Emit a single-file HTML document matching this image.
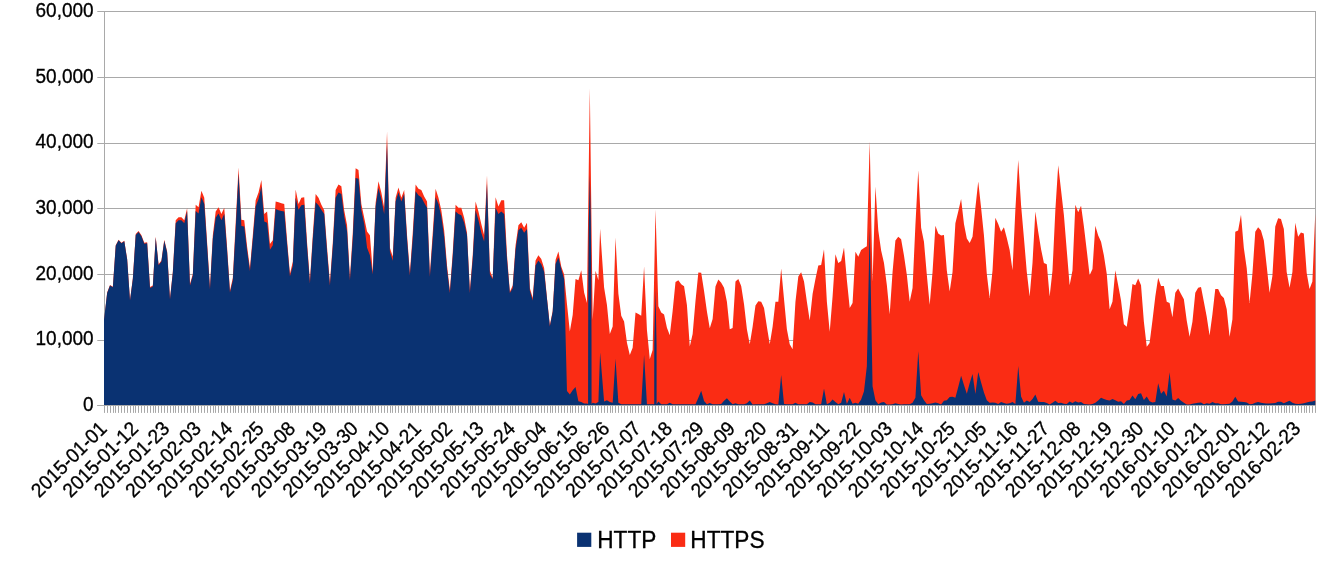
<!DOCTYPE html>
<html><head><meta charset="utf-8"><title>HTTP vs HTTPS</title>
<style>html,body{margin:0;padding:0;background:#fff}body{width:1342px;height:566px;overflow:hidden}</style></head>
<body>
<svg width="1342" height="566" viewBox="0 0 1342 566" style="display:block">
<rect width="1342" height="566" fill="#fff"/>
<path d="M97.3,11.50 H1315.9 M97.3,77.50 H1315.9 M97.3,143.50 H1315.9 M97.3,208.50 H1315.9 M97.3,274.50 H1315.9 M97.3,340.50 H1315.9 M97.3,405.50 H1315.9" stroke="#a9a9a9" stroke-width="1" fill="none"/>
<path d="M104.5,11.00 V406.00 M1315.5,11.00 V406.00" stroke="#a9a9a9" stroke-width="1" fill="none"/>
<path d="M104.30,405.50 L104.30,319.00 L107.16,292.50 L110.01,285.00 L112.87,286.70 L115.72,245.32 L118.58,239.80 L121.44,242.81 L124.29,240.80 L127.15,259.12 L130.00,300.00 L132.86,277.94 L135.72,234.03 L138.57,231.02 L141.43,235.28 L144.28,242.81 L147.14,242.31 L150.00,287.00 L152.85,285.50 L155.71,236.54 L158.56,264.14 L161.42,260.38 L164.28,239.80 L167.13,251.59 L169.99,298.40 L172.84,271.67 L175.70,220.23 L178.56,217.21 L181.41,217.21 L184.27,220.23 L187.12,208.18 L189.98,284.00 L192.84,274.00 L195.69,204.67 L198.55,207.18 L201.40,190.87 L204.26,197.64 L207.12,242.81 L209.97,287.50 L212.83,235.28 L215.68,211.44 L218.54,207.18 L221.40,213.95 L224.25,207.68 L227.11,247.83 L229.96,290.80 L232.82,277.94 L235.68,222.74 L238.53,167.53 L241.39,219.72 L244.24,220.23 L247.10,246.57 L249.96,268.00 L252.81,235.28 L255.67,200.15 L258.52,192.62 L261.38,180.08 L264.24,213.95 L267.09,211.44 L269.95,244.07 L272.80,240.30 L275.66,201.41 L278.52,202.16 L281.37,203.16 L284.23,203.91 L287.08,240.30 L289.94,273.70 L292.80,261.63 L295.65,189.61 L298.51,203.91 L301.36,197.64 L304.22,197.14 L307.08,242.81 L309.93,280.80 L312.79,235.28 L315.64,193.88 L318.50,197.64 L321.36,204.67 L324.21,210.19 L327.07,247.83 L329.92,282.96 L332.78,242.81 L335.64,190.11 L338.49,184.59 L341.35,186.35 L344.20,210.19 L347.06,225.24 L349.92,277.94 L352.77,232.77 L355.63,168.30 L358.48,170.04 L361.34,203.91 L364.20,217.72 L367.05,231.52 L369.91,235.28 L372.76,271.67 L375.62,202.66 L378.48,181.33 L381.33,192.62 L384.19,207.68 L387.04,131.70 L389.90,247.83 L392.76,256.61 L395.61,197.64 L398.47,187.60 L401.32,197.64 L404.18,190.11 L407.04,235.28 L409.89,272.92 L412.75,232.77 L415.60,184.59 L418.46,188.86 L421.32,190.11 L424.17,196.39 L427.03,201.41 L429.88,274.18 L432.74,232.77 L435.60,188.86 L438.45,197.64 L441.31,210.19 L444.16,230.26 L447.02,265.40 L449.88,290.49 L452.73,252.85 L455.59,204.67 L458.44,207.68 L461.30,207.68 L464.16,217.72 L467.01,232.77 L469.87,290.49 L472.72,255.36 L475.58,201.41 L478.44,211.44 L481.29,223.99 L484.15,235.28 L487.00,175.40 L489.86,270.41 L492.72,277.94 L495.57,197.14 L498.43,206.42 L501.28,200.15 L504.14,200.15 L507.00,255.36 L509.85,291.74 L512.71,285.47 L515.56,245.32 L518.42,225.24 L521.28,222.23 L524.13,227.75 L526.99,222.74 L529.84,287.98 L532.70,298.02 L535.56,260.38 L538.41,255.36 L541.27,259.12 L544.12,267.90 L546.98,297.90 L549.84,325.30 L552.69,311.00 L555.55,260.00 L558.40,251.40 L561.26,266.50 L564.12,274.50 L566.97,304.00 L569.83,331.40 L572.68,315.00 L575.54,279.00 L578.40,280.20 L581.25,270.20 L584.11,292.50 L586.96,303.00 L589.82,88.20 L592.68,320.00 L595.53,270.80 L598.39,280.20 L600.10,228.80 L604.10,287.50 L606.96,305.00 L609.81,334.00 L612.67,326.40 L615.52,237.60 L618.38,293.80 L621.24,315.80 L624.09,321.40 L626.95,342.70 L629.80,355.00 L632.66,347.80 L635.52,312.40 L638.37,314.00 L641.23,315.80 L644.08,266.40 L646.94,330.00 L649.80,359.00 L652.65,350.00 L655.51,209.60 L658.36,306.30 L661.22,312.60 L664.08,314.50 L666.93,327.70 L669.79,335.20 L672.64,311.00 L675.50,282.10 L678.36,280.20 L681.21,284.20 L684.07,286.20 L686.92,305.00 L689.78,346.50 L692.64,334.00 L695.49,301.00 L698.35,272.40 L701.20,272.70 L704.06,291.00 L706.92,311.40 L709.77,328.30 L712.63,319.00 L715.48,286.58 L718.34,279.56 L721.20,282.82 L724.05,287.84 L726.91,301.64 L729.76,329.24 L732.62,327.99 L735.48,281.57 L738.33,279.06 L741.19,286.08 L744.04,304.15 L746.90,329.24 L749.76,344.30 L752.61,326.74 L755.47,305.41 L758.32,301.14 L761.18,301.64 L764.04,307.91 L766.89,326.74 L769.75,344.30 L772.60,326.74 L775.46,301.64 L778.32,301.64 L781.17,268.52 L784.03,299.13 L786.88,329.24 L789.74,344.30 L792.60,349.32 L795.45,301.64 L798.31,276.55 L801.16,272.28 L804.02,281.57 L806.88,301.64 L809.73,320.46 L812.59,294.11 L815.44,279.06 L818.30,265.51 L821.16,265.01 L824.01,249.20 L826.87,301.64 L829.72,331.75 L832.58,296.62 L835.44,254.22 L838.29,263.00 L841.15,260.99 L844.00,247.44 L846.86,280.00 L849.72,307.91 L852.57,302.90 L855.43,251.71 L858.28,256.73 L861.14,249.95 L864.00,247.94 L866.85,246.19 L869.71,141.29 L872.56,282.00 L875.42,186.46 L878.28,230.38 L881.13,250.45 L883.99,263.00 L886.84,285.00 L889.70,314.19 L892.56,272.03 L895.41,240.41 L898.27,236.65 L901.12,239.16 L903.98,255.47 L906.84,275.00 L909.69,301.64 L912.55,288.00 L915.40,225.36 L918.26,170.15 L921.12,227.87 L923.97,241.67 L926.83,275.00 L929.68,304.65 L932.54,272.03 L935.40,225.86 L938.25,233.39 L941.11,235.40 L943.96,234.89 L946.82,270.53 L949.68,291.60 L952.53,272.03 L955.39,223.35 L958.24,211.56 L961.10,199.01 L963.96,224.10 L966.81,238.41 L969.67,242.92 L972.52,236.65 L975.38,207.79 L978.24,181.44 L981.09,207.79 L983.95,235.40 L986.80,274.00 L989.66,297.88 L992.52,270.53 L995.37,217.83 L998.23,224.10 L1001.08,231.63 L1003.94,227.37 L1006.80,237.90 L1009.65,250.00 L1012.51,270.30 L1015.36,210.00 L1018.22,160.11 L1021.08,205.28 L1023.93,237.90 L1026.79,272.03 L1029.64,296.62 L1032.50,263.00 L1035.36,211.56 L1038.21,231.63 L1041.07,249.20 L1043.92,263.00 L1046.78,264.25 L1049.64,296.62 L1052.49,270.53 L1055.35,210.30 L1058.20,165.13 L1061.06,190.23 L1063.92,215.32 L1066.77,250.45 L1069.63,285.33 L1072.48,270.53 L1075.34,204.78 L1078.20,212.31 L1081.05,205.78 L1083.91,226.61 L1086.76,250.45 L1089.62,275.29 L1092.48,269.00 L1095.33,225.86 L1098.19,235.40 L1101.04,241.67 L1103.90,255.47 L1106.76,274.04 L1109.61,309.17 L1112.47,301.64 L1115.32,270.27 L1118.18,285.33 L1121.04,300.39 L1123.89,324.23 L1126.75,326.74 L1129.60,307.91 L1132.46,284.08 L1135.32,285.33 L1138.17,278.55 L1141.03,285.33 L1143.88,321.72 L1146.74,346.81 L1149.60,343.05 L1152.45,320.46 L1155.31,296.62 L1158.16,277.80 L1161.02,286.08 L1163.88,286.08 L1166.73,301.64 L1169.59,302.90 L1172.44,317.20 L1175.30,292.86 L1178.16,288.59 L1181.01,294.11 L1183.87,299.13 L1186.72,320.46 L1189.58,336.77 L1192.44,321.72 L1195.29,292.86 L1198.15,287.84 L1201.00,287.09 L1203.86,301.64 L1206.72,316.70 L1209.57,335.52 L1212.43,314.19 L1215.28,289.09 L1218.14,289.09 L1221.00,295.37 L1223.85,297.88 L1226.71,309.17 L1229.56,336.77 L1232.42,319.21 L1235.28,231.63 L1238.13,230.38 L1240.99,214.82 L1243.84,247.94 L1246.70,268.00 L1249.56,302.90 L1252.41,274.00 L1255.27,231.63 L1258.12,227.37 L1260.98,230.38 L1263.84,240.41 L1266.69,266.00 L1269.55,292.86 L1272.40,276.00 L1275.26,226.61 L1278.12,218.33 L1280.97,219.08 L1283.83,229.12 L1286.68,272.00 L1289.54,287.84 L1292.40,272.00 L1295.25,222.85 L1298.11,236.65 L1300.96,232.38 L1303.82,233.39 L1306.68,273.00 L1309.53,289.09 L1312.39,281.57 L1315.24,214.07 L1315.24,405.50 Z" fill="#fa2c14"/>
<path d="M104.00,405.50 L104.00,319.50 L107.16,293.00 L110.01,285.50 L112.87,287.20 L115.72,245.82 L118.58,240.30 L121.44,243.31 L124.29,241.30 L127.15,259.62 L130.00,300.50 L132.86,278.94 L135.72,235.03 L138.57,232.02 L141.43,236.28 L144.28,243.81 L147.14,243.31 L150.00,288.00 L152.85,286.50 L155.71,237.54 L158.56,265.14 L161.42,261.38 L164.28,240.80 L167.13,252.59 L169.99,299.40 L172.84,272.67 L175.70,223.23 L178.56,220.21 L181.41,220.21 L184.27,223.23 L187.12,211.18 L189.98,285.50 L192.84,275.50 L195.69,210.97 L198.55,213.48 L201.40,197.17 L204.26,203.94 L207.12,246.31 L209.97,289.30 L212.83,238.78 L215.68,217.74 L218.54,213.48 L221.40,220.25 L224.25,213.98 L227.11,251.33 L229.96,292.60 L232.82,280.54 L235.68,229.04 L238.53,173.83 L241.39,226.02 L244.24,226.53 L247.10,250.77 L249.96,271.00 L252.81,239.48 L255.67,206.45 L258.52,198.92 L261.38,186.38 L264.24,221.48 L267.09,222.74 L269.95,249.84 L272.80,245.32 L275.66,208.93 L278.52,210.19 L281.37,210.94 L284.23,211.44 L287.08,244.50 L289.94,276.30 L292.80,265.83 L295.65,197.64 L298.51,209.69 L301.36,205.17 L304.22,204.67 L307.08,247.01 L309.93,283.40 L312.79,239.48 L315.64,202.16 L318.50,205.17 L321.36,209.69 L324.21,213.95 L327.07,252.03 L329.92,285.56 L332.78,247.01 L335.64,197.64 L338.49,192.62 L341.35,193.88 L344.20,216.49 L347.06,231.54 L349.92,280.54 L352.77,239.07 L355.63,177.90 L358.48,178.82 L361.34,210.21 L364.20,224.02 L367.05,247.83 L369.91,255.36 L372.76,274.27 L375.62,206.42 L378.48,187.63 L381.33,198.92 L384.19,213.98 L387.04,143.50 L389.90,251.59 L392.76,260.81 L395.61,201.41 L398.47,192.62 L401.32,201.41 L404.18,193.88 L407.04,239.48 L409.89,275.52 L412.75,239.07 L415.60,191.37 L418.46,195.13 L421.32,197.14 L424.17,202.66 L427.03,207.68 L429.88,276.78 L432.74,239.07 L435.60,197.14 L438.45,203.91 L441.31,216.46 L444.16,236.56 L447.02,269.60 L449.88,293.09 L452.73,257.05 L455.59,211.44 L458.44,213.95 L461.30,215.21 L464.16,222.74 L467.01,235.28 L469.87,293.09 L472.72,259.56 L475.58,210.19 L478.44,220.23 L481.29,232.77 L484.15,241.56 L487.00,183.80 L489.86,274.18 L492.72,279.20 L495.57,207.68 L498.43,213.95 L501.28,211.44 L504.14,213.95 L507.00,259.56 L509.85,293.00 L512.71,288.07 L515.56,249.52 L518.42,230.26 L521.28,227.75 L524.13,232.77 L526.99,229.01 L529.84,290.58 L532.70,300.62 L535.56,265.40 L538.41,260.38 L541.27,264.14 L544.12,271.67 L546.98,299.00 L549.84,326.50 L552.69,312.00 L555.55,264.00 L558.40,257.60 L561.26,269.00 L564.12,279.00 L566.97,391.00 L569.83,394.50 L572.68,390.20 L575.54,387.00 L578.40,401.20 L581.25,402.00 L584.11,403.50 L586.96,403.50 L588.08,404.00 L588.13,340.00 L588.33,280.00 L588.82,221.00 L589.82,175.00 L590.82,221.00 L591.31,280.00 L591.51,340.00 L591.56,404.00 L592.68,402.70 L595.53,403.40 L598.39,402.00 L600.10,352.50 L604.10,401.50 L606.96,400.20 L609.81,402.00 L612.67,402.70 L615.52,358.80 L618.38,402.70 L621.24,404.20 L624.09,404.20 L626.95,404.20 L629.80,404.20 L632.66,404.20 L635.52,404.20 L638.37,404.20 L641.23,404.20 L644.08,355.00 L646.94,404.20 L649.80,404.20 L652.65,404.20 L654.22,404.20 L654.28,345.00 L655.42,290.00 L656.56,345.00 L656.62,404.20 L658.36,401.50 L661.22,404.20 L664.08,404.20 L666.93,404.20 L669.79,402.66 L672.64,404.20 L675.50,404.20 L678.36,404.20 L681.21,404.20 L684.07,404.20 L686.92,404.20 L689.78,404.20 L692.64,404.20 L695.49,404.20 L698.35,397.64 L701.20,390.74 L704.06,401.00 L706.92,404.20 L709.77,402.91 L712.63,404.20 L715.48,404.20 L718.34,404.20 L721.20,403.91 L724.05,400.78 L726.91,398.27 L729.76,401.41 L732.62,404.17 L735.48,403.29 L738.33,404.20 L741.19,404.20 L744.04,404.20 L746.90,403.29 L749.76,400.40 L752.61,404.54 L755.47,404.20 L758.32,404.20 L761.18,404.20 L764.04,404.20 L766.89,403.29 L769.75,402.03 L772.60,403.29 L775.46,404.20 L778.32,404.54 L781.17,375.06 L784.03,403.91 L786.88,404.20 L789.74,404.20 L792.60,404.20 L795.45,402.66 L798.31,404.20 L801.16,404.20 L804.02,404.20 L806.88,404.20 L809.73,402.03 L812.59,402.41 L815.44,404.20 L818.30,404.20 L821.16,404.20 L824.01,388.61 L826.87,404.20 L829.72,402.66 L832.58,399.52 L835.44,402.03 L838.29,404.17 L841.15,402.66 L844.00,391.99 L846.86,403.91 L849.72,397.64 L852.57,403.66 L855.43,402.66 L858.28,403.66 L861.14,399.52 L864.00,391.37 L866.85,366.27 L869.71,228.00 L872.56,386.35 L875.42,400.15 L878.28,404.17 L881.13,402.41 L883.99,402.03 L886.84,404.54 L889.70,404.54 L892.56,404.17 L895.41,403.29 L898.27,403.91 L901.12,404.54 L903.98,404.17 L906.84,404.17 L909.69,404.17 L912.55,402.66 L915.40,397.64 L918.26,351.30 L921.12,395.13 L923.97,400.15 L926.83,403.91 L929.68,403.66 L932.54,403.29 L935.40,402.41 L938.25,403.29 L941.11,404.54 L943.96,400.78 L946.82,400.15 L949.68,397.01 L952.53,396.64 L955.39,397.64 L958.24,386.98 L961.10,375.68 L963.96,385.09 L966.81,393.63 L969.67,383.21 L972.52,374.05 L975.38,393.88 L978.24,371.92 L981.09,382.58 L983.95,392.62 L986.80,400.15 L989.66,402.66 L992.52,402.41 L995.37,402.66 L998.23,403.91 L1001.08,402.03 L1003.94,402.91 L1006.80,403.66 L1009.65,403.29 L1012.51,402.03 L1015.36,403.91 L1018.22,366.02 L1021.08,396.39 L1023.93,402.66 L1026.79,400.40 L1029.64,402.03 L1032.50,398.90 L1035.36,394.50 L1038.21,401.66 L1041.07,402.03 L1043.92,402.03 L1046.78,402.91 L1049.64,404.54 L1052.49,402.66 L1055.35,400.78 L1058.20,402.91 L1061.06,402.66 L1063.92,403.66 L1066.77,403.91 L1069.63,401.41 L1072.48,402.91 L1075.34,401.15 L1078.20,402.41 L1081.05,402.03 L1083.91,403.91 L1086.76,404.17 L1089.62,404.54 L1092.48,403.91 L1095.33,402.66 L1098.19,400.40 L1101.04,397.64 L1103.90,398.90 L1106.76,399.90 L1109.61,400.40 L1112.47,398.90 L1115.32,400.15 L1118.18,401.66 L1121.04,401.15 L1123.89,403.91 L1126.75,400.40 L1129.60,399.90 L1132.46,395.38 L1135.32,399.15 L1138.17,393.88 L1141.03,393.25 L1143.88,399.90 L1146.74,396.39 L1149.60,401.15 L1152.45,402.41 L1155.31,402.03 L1158.16,383.21 L1161.02,393.63 L1163.88,390.74 L1166.73,396.39 L1169.59,372.30 L1172.44,399.52 L1175.30,400.40 L1178.16,397.89 L1181.01,400.78 L1183.87,402.66 L1186.72,404.54 L1189.58,404.54 L1192.44,403.66 L1195.29,403.29 L1198.15,402.66 L1201.00,402.41 L1203.86,404.17 L1206.72,403.29 L1209.57,403.66 L1212.43,402.03 L1215.28,403.29 L1218.14,403.29 L1221.00,404.17 L1223.85,404.17 L1226.71,403.91 L1229.56,403.66 L1232.42,401.41 L1235.28,396.64 L1238.13,401.41 L1240.99,401.78 L1243.84,402.03 L1246.70,402.41 L1249.56,404.17 L1252.41,403.91 L1255.27,402.66 L1258.12,402.03 L1260.98,402.66 L1263.84,403.29 L1266.69,403.54 L1269.55,403.54 L1272.40,403.29 L1275.26,402.91 L1278.12,401.66 L1280.97,401.66 L1283.83,403.29 L1286.68,402.03 L1289.54,400.78 L1292.40,402.66 L1295.25,403.66 L1298.11,403.91 L1300.96,403.66 L1303.82,403.29 L1306.68,402.41 L1309.53,401.66 L1312.39,401.41 L1315.24,400.40 L1315.24,405.50 Z" fill="#0a3272"/>
<path d="M97.3,405.50 H1315.9" stroke="#a9a9a9" stroke-width="1" fill="none"/>
<path d="M104.5,405.50 v7.4 M107.5,405.50 v7.4 M110.5,405.50 v7.4 M113.5,405.50 v7.4 M115.5,405.50 v7.4 M118.5,405.50 v7.4 M121.5,405.50 v7.4 M124.5,405.50 v7.4 M127.5,405.50 v7.4 M130.5,405.50 v7.4 M133.5,405.50 v7.4 M135.5,405.50 v7.4 M138.5,405.50 v7.4 M141.5,405.50 v7.4 M144.5,405.50 v7.4 M147.5,405.50 v7.4 M150.5,405.50 v7.4 M153.5,405.50 v7.4 M155.5,405.50 v7.4 M158.5,405.50 v7.4 M161.5,405.50 v7.4 M164.5,405.50 v7.4 M167.5,405.50 v7.4 M170.5,405.50 v7.4 M173.5,405.50 v7.4 M175.5,405.50 v7.4 M178.5,405.50 v7.4 M181.5,405.50 v7.4 M184.5,405.50 v7.4 M187.5,405.50 v7.4 M190.5,405.50 v7.4 M193.5,405.50 v7.4 M195.5,405.50 v7.4 M198.5,405.50 v7.4 M201.5,405.50 v7.4 M204.5,405.50 v7.4 M207.5,405.50 v7.4 M210.5,405.50 v7.4 M213.5,405.50 v7.4 M215.5,405.50 v7.4 M218.5,405.50 v7.4 M221.5,405.50 v7.4 M224.5,405.50 v7.4 M227.5,405.50 v7.4 M230.5,405.50 v7.4 M233.5,405.50 v7.4 M235.5,405.50 v7.4 M238.5,405.50 v7.4 M241.5,405.50 v7.4 M244.5,405.50 v7.4 M247.5,405.50 v7.4 M250.5,405.50 v7.4 M253.5,405.50 v7.4 M255.5,405.50 v7.4 M258.5,405.50 v7.4 M261.5,405.50 v7.4 M264.5,405.50 v7.4 M267.5,405.50 v7.4 M270.5,405.50 v7.4 M273.5,405.50 v7.4 M275.5,405.50 v7.4 M278.5,405.50 v7.4 M281.5,405.50 v7.4 M284.5,405.50 v7.4 M287.5,405.50 v7.4 M290.5,405.50 v7.4 M292.5,405.50 v7.4 M295.5,405.50 v7.4 M298.5,405.50 v7.4 M301.5,405.50 v7.4 M304.5,405.50 v7.4 M307.5,405.50 v7.4 M310.5,405.50 v7.4 M312.5,405.50 v7.4 M315.5,405.50 v7.4 M318.5,405.50 v7.4 M321.5,405.50 v7.4 M324.5,405.50 v7.4 M327.5,405.50 v7.4 M330.5,405.50 v7.4 M332.5,405.50 v7.4 M335.5,405.50 v7.4 M338.5,405.50 v7.4 M341.5,405.50 v7.4 M344.5,405.50 v7.4 M347.5,405.50 v7.4 M350.5,405.50 v7.4 M352.5,405.50 v7.4 M355.5,405.50 v7.4 M358.5,405.50 v7.4 M361.5,405.50 v7.4 M364.5,405.50 v7.4 M367.5,405.50 v7.4 M370.5,405.50 v7.4 M372.5,405.50 v7.4 M375.5,405.50 v7.4 M378.5,405.50 v7.4 M381.5,405.50 v7.4 M384.5,405.50 v7.4 M387.5,405.50 v7.4 M390.5,405.50 v7.4 M392.5,405.50 v7.4 M395.5,405.50 v7.4 M398.5,405.50 v7.4 M401.5,405.50 v7.4 M404.5,405.50 v7.4 M407.5,405.50 v7.4 M410.5,405.50 v7.4 M412.5,405.50 v7.4 M415.5,405.50 v7.4 M418.5,405.50 v7.4 M421.5,405.50 v7.4 M424.5,405.50 v7.4 M427.5,405.50 v7.4 M430.5,405.50 v7.4 M432.5,405.50 v7.4 M435.5,405.50 v7.4 M438.5,405.50 v7.4 M441.5,405.50 v7.4 M444.5,405.50 v7.4 M447.5,405.50 v7.4 M450.5,405.50 v7.4 M452.5,405.50 v7.4 M455.5,405.50 v7.4 M458.5,405.50 v7.4 M461.5,405.50 v7.4 M464.5,405.50 v7.4 M467.5,405.50 v7.4 M470.5,405.50 v7.4 M472.5,405.50 v7.4 M475.5,405.50 v7.4 M478.5,405.50 v7.4 M481.5,405.50 v7.4 M484.5,405.50 v7.4 M487.5,405.50 v7.4 M490.5,405.50 v7.4 M492.5,405.50 v7.4 M495.5,405.50 v7.4 M498.5,405.50 v7.4 M501.5,405.50 v7.4 M504.5,405.50 v7.4 M507.5,405.50 v7.4 M510.5,405.50 v7.4 M512.5,405.50 v7.4 M515.5,405.50 v7.4 M518.5,405.50 v7.4 M521.5,405.50 v7.4 M524.5,405.50 v7.4 M527.5,405.50 v7.4 M530.5,405.50 v7.4 M532.5,405.50 v7.4 M535.5,405.50 v7.4 M538.5,405.50 v7.4 M541.5,405.50 v7.4 M544.5,405.50 v7.4 M547.5,405.50 v7.4 M550.5,405.50 v7.4 M552.5,405.50 v7.4 M555.5,405.50 v7.4 M558.5,405.50 v7.4 M561.5,405.50 v7.4 M564.5,405.50 v7.4 M567.5,405.50 v7.4 M570.5,405.50 v7.4 M572.5,405.50 v7.4 M575.5,405.50 v7.4 M578.5,405.50 v7.4 M581.5,405.50 v7.4 M584.5,405.50 v7.4 M587.5,405.50 v7.4 M590.5,405.50 v7.4 M592.5,405.50 v7.4 M595.5,405.50 v7.4 M598.5,405.50 v7.4 M601.5,405.50 v7.4 M604.5,405.50 v7.4 M607.5,405.50 v7.4 M610.5,405.50 v7.4 M612.5,405.50 v7.4 M615.5,405.50 v7.4 M618.5,405.50 v7.4 M621.5,405.50 v7.4 M624.5,405.50 v7.4 M627.5,405.50 v7.4 M630.5,405.50 v7.4 M632.5,405.50 v7.4 M635.5,405.50 v7.4 M638.5,405.50 v7.4 M641.5,405.50 v7.4 M644.5,405.50 v7.4 M647.5,405.50 v7.4 M649.5,405.50 v7.4 M652.5,405.50 v7.4 M655.5,405.50 v7.4 M658.5,405.50 v7.4 M661.5,405.50 v7.4 M664.5,405.50 v7.4 M667.5,405.50 v7.4 M669.5,405.50 v7.4 M672.5,405.50 v7.4 M675.5,405.50 v7.4 M678.5,405.50 v7.4 M681.5,405.50 v7.4 M684.5,405.50 v7.4 M687.5,405.50 v7.4 M689.5,405.50 v7.4 M692.5,405.50 v7.4 M695.5,405.50 v7.4 M698.5,405.50 v7.4 M701.5,405.50 v7.4 M704.5,405.50 v7.4 M707.5,405.50 v7.4 M709.5,405.50 v7.4 M712.5,405.50 v7.4 M715.5,405.50 v7.4 M718.5,405.50 v7.4 M721.5,405.50 v7.4 M724.5,405.50 v7.4 M727.5,405.50 v7.4 M729.5,405.50 v7.4 M732.5,405.50 v7.4 M735.5,405.50 v7.4 M738.5,405.50 v7.4 M741.5,405.50 v7.4 M744.5,405.50 v7.4 M747.5,405.50 v7.4 M749.5,405.50 v7.4 M752.5,405.50 v7.4 M755.5,405.50 v7.4 M758.5,405.50 v7.4 M761.5,405.50 v7.4 M764.5,405.50 v7.4 M767.5,405.50 v7.4 M769.5,405.50 v7.4 M772.5,405.50 v7.4 M775.5,405.50 v7.4 M778.5,405.50 v7.4 M781.5,405.50 v7.4 M784.5,405.50 v7.4 M787.5,405.50 v7.4 M789.5,405.50 v7.4 M792.5,405.50 v7.4 M795.5,405.50 v7.4 M798.5,405.50 v7.4 M801.5,405.50 v7.4 M804.5,405.50 v7.4 M807.5,405.50 v7.4 M809.5,405.50 v7.4 M812.5,405.50 v7.4 M815.5,405.50 v7.4 M818.5,405.50 v7.4 M821.5,405.50 v7.4 M824.5,405.50 v7.4 M827.5,405.50 v7.4 M829.5,405.50 v7.4 M832.5,405.50 v7.4 M835.5,405.50 v7.4 M838.5,405.50 v7.4 M841.5,405.50 v7.4 M844.5,405.50 v7.4 M847.5,405.50 v7.4 M849.5,405.50 v7.4 M852.5,405.50 v7.4 M855.5,405.50 v7.4 M858.5,405.50 v7.4 M861.5,405.50 v7.4 M864.5,405.50 v7.4 M867.5,405.50 v7.4 M869.5,405.50 v7.4 M872.5,405.50 v7.4 M875.5,405.50 v7.4 M878.5,405.50 v7.4 M881.5,405.50 v7.4 M884.5,405.50 v7.4 M887.5,405.50 v7.4 M889.5,405.50 v7.4 M892.5,405.50 v7.4 M895.5,405.50 v7.4 M898.5,405.50 v7.4 M901.5,405.50 v7.4 M904.5,405.50 v7.4 M907.5,405.50 v7.4 M909.5,405.50 v7.4 M912.5,405.50 v7.4 M915.5,405.50 v7.4 M918.5,405.50 v7.4 M921.5,405.50 v7.4 M924.5,405.50 v7.4 M927.5,405.50 v7.4 M929.5,405.50 v7.4 M932.5,405.50 v7.4 M935.5,405.50 v7.4 M938.5,405.50 v7.4 M941.5,405.50 v7.4 M944.5,405.50 v7.4 M947.5,405.50 v7.4 M949.5,405.50 v7.4 M952.5,405.50 v7.4 M955.5,405.50 v7.4 M958.5,405.50 v7.4 M961.5,405.50 v7.4 M964.5,405.50 v7.4 M967.5,405.50 v7.4 M969.5,405.50 v7.4 M972.5,405.50 v7.4 M975.5,405.50 v7.4 M978.5,405.50 v7.4 M981.5,405.50 v7.4 M984.5,405.50 v7.4 M987.5,405.50 v7.4 M989.5,405.50 v7.4 M992.5,405.50 v7.4 M995.5,405.50 v7.4 M998.5,405.50 v7.4 M1001.5,405.50 v7.4 M1004.5,405.50 v7.4 M1006.5,405.50 v7.4 M1009.5,405.50 v7.4 M1012.5,405.50 v7.4 M1015.5,405.50 v7.4 M1018.5,405.50 v7.4 M1021.5,405.50 v7.4 M1024.5,405.50 v7.4 M1026.5,405.50 v7.4 M1029.5,405.50 v7.4 M1032.5,405.50 v7.4 M1035.5,405.50 v7.4 M1038.5,405.50 v7.4 M1041.5,405.50 v7.4 M1044.5,405.50 v7.4 M1046.5,405.50 v7.4 M1049.5,405.50 v7.4 M1052.5,405.50 v7.4 M1055.5,405.50 v7.4 M1058.5,405.50 v7.4 M1061.5,405.50 v7.4 M1064.5,405.50 v7.4 M1066.5,405.50 v7.4 M1069.5,405.50 v7.4 M1072.5,405.50 v7.4 M1075.5,405.50 v7.4 M1078.5,405.50 v7.4 M1081.5,405.50 v7.4 M1084.5,405.50 v7.4 M1086.5,405.50 v7.4 M1089.5,405.50 v7.4 M1092.5,405.50 v7.4 M1095.5,405.50 v7.4 M1098.5,405.50 v7.4 M1101.5,405.50 v7.4 M1104.5,405.50 v7.4 M1106.5,405.50 v7.4 M1109.5,405.50 v7.4 M1112.5,405.50 v7.4 M1115.5,405.50 v7.4 M1118.5,405.50 v7.4 M1121.5,405.50 v7.4 M1124.5,405.50 v7.4 M1126.5,405.50 v7.4 M1129.5,405.50 v7.4 M1132.5,405.50 v7.4 M1135.5,405.50 v7.4 M1138.5,405.50 v7.4 M1141.5,405.50 v7.4 M1144.5,405.50 v7.4 M1146.5,405.50 v7.4 M1149.5,405.50 v7.4 M1152.5,405.50 v7.4 M1155.5,405.50 v7.4 M1158.5,405.50 v7.4 M1161.5,405.50 v7.4 M1164.5,405.50 v7.4 M1166.5,405.50 v7.4 M1169.5,405.50 v7.4 M1172.5,405.50 v7.4 M1175.5,405.50 v7.4 M1178.5,405.50 v7.4 M1181.5,405.50 v7.4 M1184.5,405.50 v7.4 M1186.5,405.50 v7.4 M1189.5,405.50 v7.4 M1192.5,405.50 v7.4 M1195.5,405.50 v7.4 M1198.5,405.50 v7.4 M1201.5,405.50 v7.4 M1204.5,405.50 v7.4 M1206.5,405.50 v7.4 M1209.5,405.50 v7.4 M1212.5,405.50 v7.4 M1215.5,405.50 v7.4 M1218.5,405.50 v7.4 M1221.5,405.50 v7.4 M1224.5,405.50 v7.4 M1226.5,405.50 v7.4 M1229.5,405.50 v7.4 M1232.5,405.50 v7.4 M1235.5,405.50 v7.4 M1238.5,405.50 v7.4 M1241.5,405.50 v7.4 M1244.5,405.50 v7.4 M1246.5,405.50 v7.4 M1249.5,405.50 v7.4 M1252.5,405.50 v7.4 M1255.5,405.50 v7.4 M1258.5,405.50 v7.4 M1261.5,405.50 v7.4 M1264.5,405.50 v7.4 M1266.5,405.50 v7.4 M1269.5,405.50 v7.4 M1272.5,405.50 v7.4 M1275.5,405.50 v7.4 M1278.5,405.50 v7.4 M1281.5,405.50 v7.4 M1284.5,405.50 v7.4 M1286.5,405.50 v7.4 M1289.5,405.50 v7.4 M1292.5,405.50 v7.4 M1295.5,405.50 v7.4 M1298.5,405.50 v7.4 M1301.5,405.50 v7.4 M1304.5,405.50 v7.4 M1306.5,405.50 v7.4 M1309.5,405.50 v7.4 M1312.5,405.50 v7.4 M1315.5,405.50 v7.4" stroke="#a9a9a9" stroke-width="1" fill="none"/>
<g font-family="'Liberation Sans', Arial, sans-serif" font-size="19" fill="#000" stroke="#000" stroke-width="0.3">
<text transform="translate(93.6,16.90) scale(1,1.05)" text-anchor="end">60,000</text>
<text transform="translate(93.6,82.57) scale(1,1.05)" text-anchor="end">50,000</text>
<text transform="translate(93.6,148.23) scale(1,1.05)" text-anchor="end">40,000</text>
<text transform="translate(93.6,213.90) scale(1,1.05)" text-anchor="end">30,000</text>
<text transform="translate(93.6,279.57) scale(1,1.05)" text-anchor="end">20,000</text>
<text transform="translate(93.6,345.23) scale(1,1.05)" text-anchor="end">10,000</text>
<text transform="translate(93.6,410.90) scale(1,1.05)" text-anchor="end">0</text>
<text transform="translate(108.00,429.70) rotate(-45) scale(1,1.05)" text-anchor="end">2015-01-01</text>
<text transform="translate(139.42,429.70) rotate(-45) scale(1,1.05)" text-anchor="end">2015-01-12</text>
<text transform="translate(170.83,429.70) rotate(-45) scale(1,1.05)" text-anchor="end">2015-01-23</text>
<text transform="translate(202.25,429.70) rotate(-45) scale(1,1.05)" text-anchor="end">2015-02-03</text>
<text transform="translate(233.66,429.70) rotate(-45) scale(1,1.05)" text-anchor="end">2015-02-14</text>
<text transform="translate(265.08,429.70) rotate(-45) scale(1,1.05)" text-anchor="end">2015-02-25</text>
<text transform="translate(296.50,429.70) rotate(-45) scale(1,1.05)" text-anchor="end">2015-03-08</text>
<text transform="translate(327.91,429.70) rotate(-45) scale(1,1.05)" text-anchor="end">2015-03-19</text>
<text transform="translate(359.33,429.70) rotate(-45) scale(1,1.05)" text-anchor="end">2015-03-30</text>
<text transform="translate(390.74,429.70) rotate(-45) scale(1,1.05)" text-anchor="end">2015-04-10</text>
<text transform="translate(422.16,429.70) rotate(-45) scale(1,1.05)" text-anchor="end">2015-04-21</text>
<text transform="translate(453.58,429.70) rotate(-45) scale(1,1.05)" text-anchor="end">2015-05-02</text>
<text transform="translate(484.99,429.70) rotate(-45) scale(1,1.05)" text-anchor="end">2015-05-13</text>
<text transform="translate(516.41,429.70) rotate(-45) scale(1,1.05)" text-anchor="end">2015-05-24</text>
<text transform="translate(547.82,429.70) rotate(-45) scale(1,1.05)" text-anchor="end">2015-06-04</text>
<text transform="translate(579.24,429.70) rotate(-45) scale(1,1.05)" text-anchor="end">2015-06-15</text>
<text transform="translate(610.66,429.70) rotate(-45) scale(1,1.05)" text-anchor="end">2015-06-26</text>
<text transform="translate(642.07,429.70) rotate(-45) scale(1,1.05)" text-anchor="end">2015-07-07</text>
<text transform="translate(673.49,429.70) rotate(-45) scale(1,1.05)" text-anchor="end">2015-07-18</text>
<text transform="translate(704.90,429.70) rotate(-45) scale(1,1.05)" text-anchor="end">2015-07-29</text>
<text transform="translate(736.32,429.70) rotate(-45) scale(1,1.05)" text-anchor="end">2015-08-09</text>
<text transform="translate(767.74,429.70) rotate(-45) scale(1,1.05)" text-anchor="end">2015-08-20</text>
<text transform="translate(799.15,429.70) rotate(-45) scale(1,1.05)" text-anchor="end">2015-08-31</text>
<text transform="translate(830.57,429.70) rotate(-45) scale(1,1.05)" text-anchor="end">2015-09-11</text>
<text transform="translate(861.98,429.70) rotate(-45) scale(1,1.05)" text-anchor="end">2015-09-22</text>
<text transform="translate(893.40,429.70) rotate(-45) scale(1,1.05)" text-anchor="end">2015-10-03</text>
<text transform="translate(924.82,429.70) rotate(-45) scale(1,1.05)" text-anchor="end">2015-10-14</text>
<text transform="translate(956.23,429.70) rotate(-45) scale(1,1.05)" text-anchor="end">2015-10-25</text>
<text transform="translate(987.65,429.70) rotate(-45) scale(1,1.05)" text-anchor="end">2015-11-05</text>
<text transform="translate(1019.06,429.70) rotate(-45) scale(1,1.05)" text-anchor="end">2015-11-16</text>
<text transform="translate(1050.48,429.70) rotate(-45) scale(1,1.05)" text-anchor="end">2015-11-27</text>
<text transform="translate(1081.90,429.70) rotate(-45) scale(1,1.05)" text-anchor="end">2015-12-08</text>
<text transform="translate(1113.31,429.70) rotate(-45) scale(1,1.05)" text-anchor="end">2015-12-19</text>
<text transform="translate(1144.73,429.70) rotate(-45) scale(1,1.05)" text-anchor="end">2015-12-30</text>
<text transform="translate(1176.14,429.70) rotate(-45) scale(1,1.05)" text-anchor="end">2016-01-10</text>
<text transform="translate(1207.56,429.70) rotate(-45) scale(1,1.05)" text-anchor="end">2016-01-21</text>
<text transform="translate(1238.98,429.70) rotate(-45) scale(1,1.05)" text-anchor="end">2016-02-01</text>
<text transform="translate(1270.39,429.70) rotate(-45) scale(1,1.05)" text-anchor="end">2016-02-12</text>
<text transform="translate(1301.81,429.70) rotate(-45) scale(1,1.05)" text-anchor="end">2016-02-23</text>
</g>
<rect x="577.1" y="532.7" width="14.2" height="14.2" fill="#0a3272"/>
<rect x="671" y="532.7" width="14.2" height="14.2" fill="#fa2c14"/>
<g font-family="'Liberation Sans', Arial, sans-serif" font-size="22.67" fill="#000" stroke="#000" stroke-width="0.3">
<text transform="translate(597.2,547.9) scale(1,1.075)">HTTP</text>
<text transform="translate(690.3,547.9) scale(1,1.075)">HTTPS</text>
</g>
</svg>
</body></html>
